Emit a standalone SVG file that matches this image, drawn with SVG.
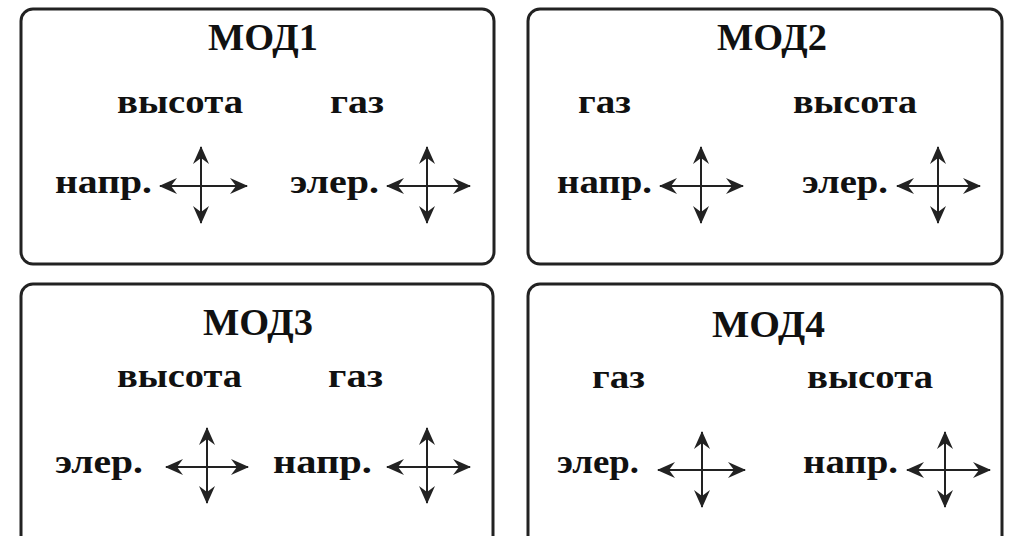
<svg xmlns="http://www.w3.org/2000/svg" width="1009" height="536" viewBox="0 0 1009 536">
<style>
.box{fill:#fff;stroke:#222;stroke-width:3}
.title{font-family:"Liberation Serif",serif;font-size:37px;fill:#111;font-weight:bold}
.lbl{font-family:"Liberation Serif",serif;font-size:33px;font-weight:bold;fill:#111}
.ax{stroke:#222;stroke-width:2;marker-start:url(#ah);marker-end:url(#ah)}
</style>
<defs>
<marker id="ah" viewBox="0 0 18 16" refX="17" refY="8" markerWidth="18" markerHeight="16" markerUnits="userSpaceOnUse" orient="auto-start-reverse">
<path d="M0,0 L18,8 L0,16 L6,8 Z" fill="#222"/>
</marker>
</defs>
<rect width="1009" height="536" fill="#fff"/>
<g id="mod1">
<rect class="box" x="21" y="9" width="473" height="255" rx="12"/>
<text class="title" x="208" y="50" textLength="110" lengthAdjust="spacingAndGlyphs">МОД1</text>
<text class="lbl" x="117" y="113" textLength="126" lengthAdjust="spacingAndGlyphs">высота</text>
<text class="lbl" x="330" y="113" textLength="54" lengthAdjust="spacingAndGlyphs">газ</text>
<text class="lbl" x="55" y="193" textLength="97" lengthAdjust="spacingAndGlyphs">напр.</text>
<text class="lbl" x="290" y="193" textLength="89" lengthAdjust="spacingAndGlyphs">элер.</text>
</g>
<g id="mod2">
<rect class="box" x="528" y="9" width="474" height="255" rx="12"/>
<text class="title" x="717" y="50" textLength="110" lengthAdjust="spacingAndGlyphs">МОД2</text>
<text class="lbl" x="578" y="113" textLength="53" lengthAdjust="spacingAndGlyphs">газ</text>
<text class="lbl" x="793" y="113" textLength="124" lengthAdjust="spacingAndGlyphs">высота</text>
<text class="lbl" x="557" y="193" textLength="95" lengthAdjust="spacingAndGlyphs">напр.</text>
<text class="lbl" x="802" y="193" textLength="86" lengthAdjust="spacingAndGlyphs">элер.</text>
</g>
<g id="mod3">
<rect class="box" x="21" y="284" width="472" height="270" rx="12"/>
<text class="title" x="203" y="335" textLength="110" lengthAdjust="spacingAndGlyphs">МОД3</text>
<text class="lbl" x="117" y="387" textLength="125" lengthAdjust="spacingAndGlyphs">высота</text>
<text class="lbl" x="328" y="387" textLength="55" lengthAdjust="spacingAndGlyphs">газ</text>
<text class="lbl" x="55" y="473" textLength="88" lengthAdjust="spacingAndGlyphs">элер.</text>
<text class="lbl" x="273" y="473" textLength="99" lengthAdjust="spacingAndGlyphs">напр.</text>
</g>
<g id="mod4">
<rect class="box" x="528" y="284" width="474" height="270" rx="12"/>
<text class="title" x="712" y="337" textLength="113" lengthAdjust="spacingAndGlyphs">МОД4</text>
<text class="lbl" x="592" y="388" textLength="53" lengthAdjust="spacingAndGlyphs">газ</text>
<text class="lbl" x="807" y="388" textLength="126" lengthAdjust="spacingAndGlyphs">высота</text>
<text class="lbl" x="557" y="473" textLength="82" lengthAdjust="spacingAndGlyphs">элер.</text>
<text class="lbl" x="803" y="473" textLength="95" lengthAdjust="spacingAndGlyphs">напр.</text>
</g>
<g id="connectors">
<line class="ax" x1="160" y1="186" x2="247" y2="186"/><line class="ax" x1="201" y1="147" x2="201" y2="223"/>
<line class="ax" x1="387" y1="186" x2="470" y2="186"/><line class="ax" x1="427" y1="147" x2="427" y2="223"/>
<line class="ax" x1="660" y1="186" x2="743" y2="186"/><line class="ax" x1="701" y1="147" x2="701" y2="223"/>
<line class="ax" x1="897" y1="186" x2="980" y2="186"/><line class="ax" x1="938" y1="147" x2="938" y2="223"/>
<line class="ax" x1="166" y1="467" x2="248" y2="467"/><line class="ax" x1="207" y1="428" x2="207" y2="503"/>
<line class="ax" x1="387" y1="467" x2="470" y2="467"/><line class="ax" x1="427" y1="428" x2="427" y2="503"/>
<line class="ax" x1="658" y1="470" x2="745" y2="470"/><line class="ax" x1="702" y1="432" x2="702" y2="507"/>
<line class="ax" x1="907" y1="470" x2="990" y2="470"/><line class="ax" x1="945" y1="432" x2="945" y2="507"/>
</g>
</svg>
